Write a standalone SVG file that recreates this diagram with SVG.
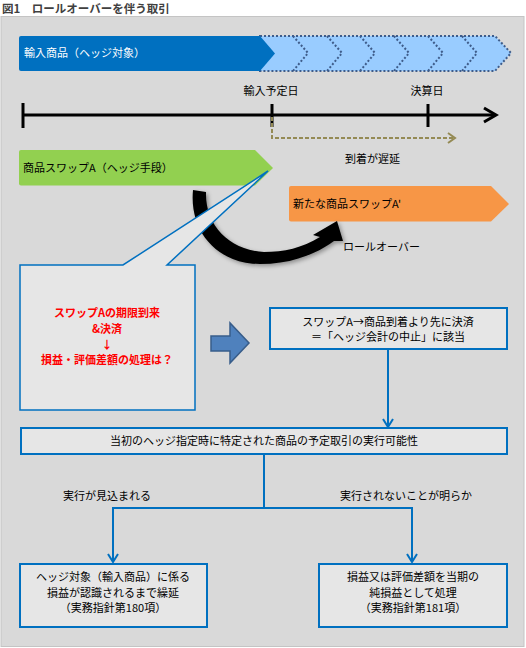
<svg xmlns="http://www.w3.org/2000/svg" width="526" height="648" viewBox="0 0 526 648">
<defs>
<style>
text{font-family:"Noto Sans CJK JP","Noto Sans",sans-serif;font-size:11px;fill:#000}
.c{text-anchor:middle}
.box{fill:#e6e6e6;stroke:#0070c0;stroke-width:2}
.conn{fill:none;stroke:#0070c0;stroke-width:2}
.red{fill:#ff0000;font-weight:bold}
.dot{fill:none;stroke:#3e5c8a;stroke-width:2;stroke-dasharray:2 2}
.tl{fill:none;stroke:#000;stroke-width:3}
</style>
<marker id="v" viewBox="0 0 10 12" refX="9" refY="6" markerWidth="10" markerHeight="12" markerUnits="userSpaceOnUse" orient="auto">
<path d="M1,1 L9,6 L1,11" fill="none" stroke="#0070c0" stroke-width="2"/>
</marker>
<filter id="sh" x="-20%" y="-20%" width="140%" height="140%">
<feDropShadow dx="2" dy="2" stdDeviation="2" flood-color="#000" flood-opacity="0.35"/>
</filter>
</defs>
<rect width="526" height="648" fill="#fff"/>
<text x="2" y="13" style="font-size:11.5px;font-weight:bold;fill:#404040">図1　ロールオーバーを伴う取引</text>
<rect x="1" y="16.5" width="523" height="630" fill="#d9d9d9" stroke="#c4c4c4" stroke-width="1"/>

<g id="hedge-item">
<polygon points="260,36 495,36 511,53 495,71 260,71" fill="#99ccff"/>
<polygon class="dot" points="260,36 495,36 511,53 495,71 260,71"/>
<polyline class="dot" points="293,36 308,53 293,71"/>
<polyline class="dot" points="327,36 342,53 327,71"/>
<polyline class="dot" points="360,36 375,53 360,71"/>
<polyline class="dot" points="394,36 409,53 394,71"/>
<polyline class="dot" points="428,36 443,53 428,71"/>
<polyline class="dot" points="462,36 477,53 462,71"/>
<path d="M21,36 L260,36 L275,53.5 L260,71 L21,71 Q19,71 19,69 L19,38 Q19,36 21,36 Z" fill="#0070c0"/>
<text x="24" y="57" style="fill:#fff">輸入商品（ヘッジ対象）</text>
</g>

<g id="timeline">
<line class="tl" x1="23" y1="115" x2="495" y2="115"/>
<polyline points="484,108 496,115 484,122" fill="none" stroke="#000" stroke-width="3"/>
<line class="tl" x1="23" y1="103" x2="23" y2="128"/>
<line class="tl" x1="272" y1="104" x2="272" y2="127"/>
<line class="tl" x1="428" y1="104" x2="428" y2="127"/>
<text class="c" x="271" y="95">輸入予定日</text>
<text class="c" x="427" y="95">決算日</text>
</g>

<g id="delay">
<polyline points="272,117 272,138 454,138" fill="none" stroke="#948a54" stroke-width="2" stroke-dasharray="4 2"/>
<polyline points="448,133 455,138 448,143" fill="none" stroke="#948a54" stroke-width="2"/>
<text x="345" y="163">到着が遅延</text>
</g>

<g id="swap-a">
<path d="M21,150 L255,150 L273,168 L255,185.5 L21,185.5 Q19,185.5 19,183.5 L19,152 Q19,150 21,150 Z" fill="#92d050"/>
<text x="23" y="172">商品スワップA（ヘッジ手段）</text>
</g>

<g id="swap-a2">
<path d="M291,186 L491,186 L509,204 L491,221.5 L291,221.5 Q289,221.5 289,219.5 L289,188 Q289,186 291,186 Z" fill="#f79646"/>
<text x="293" y="208">新たな商品スワップA'</text>
</g>

<g id="rollover">
<path d="M193,190 C189,232 218,264 260,264 C292,264 316,254 334,241 L343,241 L337,221 L313,235 L320,237 C302,248 284,252 264,252 C230,250 205,226 206,192 Z" fill="#000" filter="url(#sh)"/>
<text x="343" y="251">ロールオーバー</text>
</g>

<g id="callout">
<path d="M20,265 L123,265 L268,171 L167,265 L195,265 L195,410 L20,410 Z" fill="#e6e6e6" stroke="#0070c0" stroke-width="1.5" stroke-linejoin="miter"/>
<text class="c red" x="107" y="317">スワップAの期限到来</text>
<text class="c red" x="107" y="333">&amp;決済</text>
<text class="c red" x="107" y="349">↓</text>
<text class="c red" x="107" y="364">損益・評価差額の処理は？</text>
</g>

<g id="block-arrow">
<polygon points="211,336 230,336 230,323 249,343 230,363 230,351 211,351" fill="#4f81bd" stroke="#385d8a" stroke-width="1.5"/>
</g>

<g id="stop-box">
<rect class="box" x="270" y="308" width="237" height="41"/>
<text class="c" x="388" y="326">スワップA→商品到着より先に決済</text>
<text class="c" x="388" y="341">＝「ヘッジ会計の中止」に該当</text>
</g>

<g id="feasibility">
<rect class="box" x="21" y="428" width="486" height="26"/>
<text class="c" x="264" y="445">当初のヘッジ指定時に特定された商品の予定取引の実行可能性</text>
</g>

<g id="defer">
<rect class="box" x="20" y="564" width="187" height="63"/>
<text class="c" x="113" y="581">ヘッジ対象（輸入商品）に係る</text>
<text class="c" x="113" y="597">損益が認識されるまで繰延</text>
<text class="c" x="113" y="612">（実務指針第180項）</text>
</g>

<g id="current">
<rect class="box" x="319" y="564" width="188" height="63"/>
<text class="c" x="413" y="581">損益又は評価差額を当期の</text>
<text class="c" x="413" y="597">純損益として処理</text>
<text class="c" x="413" y="612">（実務指針第181項）</text>
</g>

<g id="connectors">
<line class="conn" x1="388" y1="349" x2="388" y2="427" marker-end="url(#v)"/>
<polyline class="conn" points="264,454 264,508"/>
<polyline class="conn" points="264,508 113,508 113,562" marker-end="url(#v)"/>
<polyline class="conn" points="264,508 412,508 412,562" marker-end="url(#v)"/>
<text x="63" y="500">実行が見込まれる</text>
<text x="340" y="500">実行されないことが明らか</text>
</g>
</svg>
